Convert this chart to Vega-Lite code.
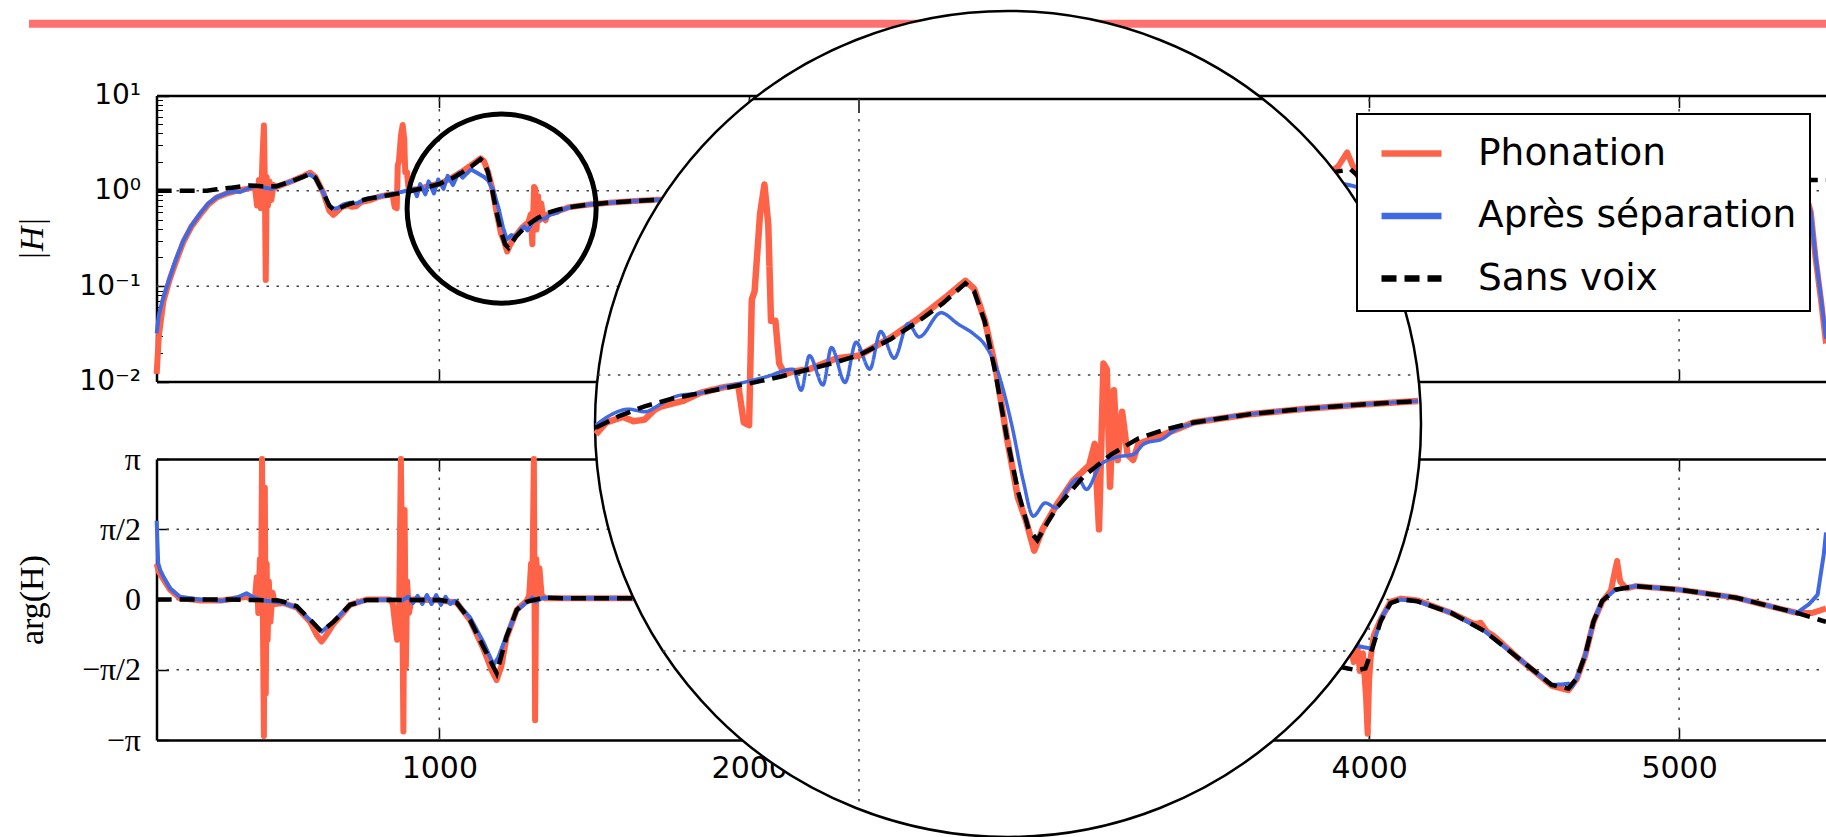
{
  "$schema": "https://vega.github.io/schema/vega-lite/v6.json",
  "width": 1826,
  "height": 837,
  "autosize": "none",
  "padding": 0,
  "background": "white",
  "config": {
    "view": {"stroke": null},
    "axis": {"domainColor": "black", "tickColor": "black", "labelColor": "black", "grid": false, "labelFlush": false, "labelOverlap": false, "labelBound": false}
  },
  "datasets": {
    "topP": [
      {"s":"Phonation","f":88,"v":0.012},{"s":"Phonation","f":95,"v":0.03},{"s":"Phonation","f":110,"v":0.07},{"s":"Phonation","f":131,"v":0.12},{"s":"Phonation","f":150,"v":0.18},{"s":"Phonation","f":174,"v":0.29},{"s":"Phonation","f":200,"v":0.42},{"s":"Phonation","f":228,"v":0.56},{"s":"Phonation","f":255,"v":0.72},{"s":"Phonation","f":282,"v":0.85},{"s":"Phonation","f":315,"v":0.94},{"s":"Phonation","f":346,"v":1.0},{"s":"Phonation","f":380,"v":1.05},{"s":"Phonation","f":405,"v":1.1},{"s":"Phonation","f":412,"v":0.7},{"s":"Phonation","f":418,"v":1.3},{"s":"Phonation","f":424,"v":0.66},{"s":"Phonation","f":430,"v":2.5},{"s":"Phonation","f":434,"v":4.85},{"s":"Phonation","f":437,"v":1.2},{"s":"Phonation","f":440,"v":0.116},{"s":"Phonation","f":443,"v":1.4},{"s":"Phonation","f":447,"v":0.7},{"s":"Phonation","f":452,"v":1.25},{"s":"Phonation","f":458,"v":0.8},{"s":"Phonation","f":465,"v":1.15},{"s":"Phonation","f":475,"v":1.1},{"s":"Phonation","f":520,"v":1.25},{"s":"Phonation","f":560,"v":1.42},{"s":"Phonation","f":583,"v":1.55},{"s":"Phonation","f":600,"v":1.4},{"s":"Phonation","f":626,"v":0.95},{"s":"Phonation","f":645,"v":0.62},{"s":"Phonation","f":658,"v":0.56},{"s":"Phonation","f":671,"v":0.61},{"s":"Phonation","f":684,"v":0.673},{"s":"Phonation","f":705,"v":0.705},{"s":"Phonation","f":718,"v":0.68},{"s":"Phonation","f":732,"v":0.689},{"s":"Phonation","f":745,"v":0.75},{"s":"Phonation","f":753,"v":0.77},{"s":"Phonation","f":780,"v":0.805},{"s":"Phonation","f":801,"v":0.86},{"s":"Phonation","f":828,"v":0.9},{"s":"Phonation","f":849,"v":0.92},{"s":"Phonation","f":856,"v":0.673},{"s":"Phonation","f":862.6,"v":0.658},{"s":"Phonation","f":866,"v":1.878},{"s":"Phonation","f":869.5,"v":2.01},{"s":"Phonation","f":876.3,"v":3.835},{"s":"Phonation","f":881.8,"v":4.9},{"s":"Phonation","f":886.6,"v":3.51},{"s":"Phonation","f":890,"v":1.571},{"s":"Phonation","f":895.5,"v":1.571},{"s":"Phonation","f":900.3,"v":1.1},{"s":"Phonation","f":907.2,"v":1.006},{"s":"Phonation","f":917.5,"v":1.03},{"s":"Phonation","f":938,"v":1.05},{"s":"Phonation","f":972,"v":1.15},{"s":"Phonation","f":1000,"v":1.175},{"s":"Phonation","f":1041,"v":1.374},{"s":"Phonation","f":1075,"v":1.607},{"s":"Phonation","f":1109,"v":1.92},{"s":"Phonation","f":1133,"v":2.195},{"s":"Phonation","f":1144,"v":2.053},{"s":"Phonation","f":1157.5,"v":1.571},{"s":"Phonation","f":1171,"v":1.05},{"s":"Phonation","f":1185,"v":0.589},{"s":"Phonation","f":1198.6,"v":0.36},{"s":"Phonation","f":1209,"v":0.295},{"s":"Phonation","f":1219,"v":0.231},{"s":"Phonation","f":1229.4,"v":0.276},{"s":"Phonation","f":1246.6,"v":0.337},{"s":"Phonation","f":1267,"v":0.412},{"s":"Phonation","f":1287.7,"v":0.471},{"s":"Phonation","f":1294.6,"v":0.563},{"s":"Phonation","f":1300,"v":0.276},{"s":"Phonation","f":1305.6,"v":1.1},{"s":"Phonation","f":1309.7,"v":1.05},{"s":"Phonation","f":1313.8,"v":0.394},{"s":"Phonation","f":1318.6,"v":0.88},{"s":"Phonation","f":1323.4,"v":0.492},{"s":"Phonation","f":1328.9,"v":0.736},{"s":"Phonation","f":1335.7,"v":0.515},{"s":"Phonation","f":1342.6,"v":0.492},{"s":"Phonation","f":1349.4,"v":0.563},{"s":"Phonation","f":1377,"v":0.602},{"s":"Phonation","f":1418,"v":0.673},{"s":"Phonation","f":1487,"v":0.72},{"s":"Phonation","f":1555,"v":0.753},{"s":"Phonation","f":1624,"v":0.78},{"s":"Phonation","f":1699,"v":0.805},{"s":"Phonation","f":1800,"v":0.82},{"s":"Phonation","f":2000,"v":0.85},{"s":"Phonation","f":2500,"v":0.9},{"s":"Phonation","f":3000,"v":0.97},{"s":"Phonation","f":3500,"v":1.1},{"s":"Phonation","f":3850,"v":1.4},{"s":"Phonation","f":3900,"v":1.8},{"s":"Phonation","f":3929,"v":2.53},{"s":"Phonation","f":3945,"v":1.9},{"s":"Phonation","f":3970,"v":1.3},{"s":"Phonation","f":4100,"v":0.9},{"s":"Phonation","f":4500,"v":0.9},{"s":"Phonation","f":5000,"v":1.1},{"s":"Phonation","f":5400,"v":1.15},{"s":"Phonation","f":5425,"v":0.6},{"s":"Phonation","f":5440,"v":0.2},{"s":"Phonation","f":5457,"v":0.075},{"s":"Phonation","f":5474,"v":0.025}
    ],
    "topB": [
      {"s":"Après séparation","f":88,"v":0.032},{"s":"Après séparation","f":95,"v":0.05},{"s":"Après séparation","f":110,"v":0.077},{"s":"Après séparation","f":131,"v":0.125},{"s":"Après séparation","f":150,"v":0.19},{"s":"Après séparation","f":174,"v":0.3},{"s":"Après séparation","f":200,"v":0.43},{"s":"Après séparation","f":228,"v":0.577},{"s":"Après séparation","f":255,"v":0.74},{"s":"Après séparation","f":282,"v":0.86},{"s":"Après séparation","f":315,"v":0.95},{"s":"Après séparation","f":340,"v":0.99},{"s":"Après séparation","f":357,"v":0.97},{"s":"Après séparation","f":380,"v":1.05},{"s":"Après séparation","f":411,"v":1.13},{"s":"Après séparation","f":435,"v":1.08},{"s":"Après séparation","f":459,"v":1.05},{"s":"Après séparation","f":480,"v":1.12},{"s":"Après séparation","f":520,"v":1.25},{"s":"Après séparation","f":560,"v":1.4},{"s":"Après séparation","f":583,"v":1.48},{"s":"Après séparation","f":600,"v":1.35},{"s":"Après séparation","f":626,"v":0.95},{"s":"Après séparation","f":645,"v":0.7},{"s":"Après séparation","f":658,"v":0.65},{"s":"Après séparation","f":671,"v":0.658},{"s":"Après séparation","f":691,"v":0.72},{"s":"Après séparation","f":712,"v":0.752},{"s":"Après séparation","f":732,"v":0.736},{"s":"Après séparation","f":753,"v":0.787},{"s":"Après séparation","f":773.5,"v":0.841},{"s":"Après séparation","f":801,"v":0.86},{"s":"Après séparation","f":828,"v":0.9},{"s":"Après séparation","f":856,"v":0.94},{"s":"Après séparation","f":883,"v":0.983},{"s":"Après séparation","f":917.5,"v":1.05},{"s":"Après séparation","f":927.7,"v":0.88},{"s":"Après séparation","f":938,"v":1.175},{"s":"Après séparation","f":955,"v":0.92},{"s":"Après séparation","f":965.5,"v":1.257},{"s":"Après séparation","f":982.6,"v":0.94},{"s":"Après séparation","f":996.3,"v":1.314},{"s":"Après séparation","f":1013.5,"v":1.05},{"s":"Après séparation","f":1027,"v":1.437},{"s":"Après séparation","f":1044,"v":1.15},{"s":"Après séparation","f":1061.5,"v":1.536},{"s":"Après séparation","f":1075,"v":1.374},{"s":"Après séparation","f":1102.6,"v":1.68},{"s":"Après séparation","f":1123,"v":1.536},{"s":"Après séparation","f":1143.7,"v":1.405},{"s":"Après séparation","f":1157.5,"v":1.285},{"s":"Après séparation","f":1174.6,"v":1.006},{"s":"Après séparation","f":1191.7,"v":0.644},{"s":"Après séparation","f":1205.4,"v":0.412},{"s":"Après séparation","f":1217.8,"v":0.308},{"s":"Après séparation","f":1232.9,"v":0.344},{"s":"Après séparation","f":1246.6,"v":0.33},{"s":"Après séparation","f":1260.3,"v":0.385},{"s":"Après séparation","f":1274,"v":0.421},{"s":"Après séparation","f":1284.3,"v":0.385},{"s":"Après séparation","f":1301.4,"v":0.471},{"s":"Après séparation","f":1322,"v":0.504},{"s":"Après séparation","f":1342.6,"v":0.515},{"s":"Après séparation","f":1356.3,"v":0.563},{"s":"Après séparation","f":1380.3,"v":0.589},{"s":"Après séparation","f":1394,"v":0.63},{"s":"Après séparation","f":1418,"v":0.667},{"s":"Après séparation","f":1487,"v":0.72},{"s":"Après séparation","f":1555,"v":0.753},{"s":"Après séparation","f":1624,"v":0.78},{"s":"Après séparation","f":1699,"v":0.805},{"s":"Après séparation","f":1800,"v":0.82},{"s":"Après séparation","f":2000,"v":0.85},{"s":"Après séparation","f":2500,"v":0.9},{"s":"Après séparation","f":3000,"v":0.97},{"s":"Après séparation","f":3500,"v":1.05},{"s":"Après séparation","f":3850,"v":1.2},{"s":"Après séparation","f":3900,"v":1.2},{"s":"Après séparation","f":3930,"v":1.16},{"s":"Après séparation","f":3960,"v":1.1},{"s":"Après séparation","f":4100,"v":0.9},{"s":"Après séparation","f":4500,"v":0.9},{"s":"Après séparation","f":5000,"v":1.1},{"s":"Après séparation","f":5400,"v":1.15},{"s":"Après séparation","f":5425,"v":0.6},{"s":"Après séparation","f":5440,"v":0.21},{"s":"Après séparation","f":5457,"v":0.08},{"s":"Après séparation","f":5474,"v":0.028}
    ],
    "topK": [
      {"s":"Sans voix","f":88,"v":1.0},{"s":"Sans voix","f":150,"v":1.0},{"s":"Sans voix","f":250,"v":1.0},{"s":"Sans voix","f":282,"v":1.04},{"s":"Sans voix","f":330,"v":1.08},{"s":"Sans voix","f":389,"v":1.14},{"s":"Sans voix","f":430,"v":1.12},{"s":"Sans voix","f":475,"v":1.12},{"s":"Sans voix","f":520,"v":1.25},{"s":"Sans voix","f":560,"v":1.4},{"s":"Sans voix","f":583,"v":1.51},{"s":"Sans voix","f":600,"v":1.38},{"s":"Sans voix","f":626,"v":0.95},{"s":"Sans voix","f":645,"v":0.7},{"s":"Sans voix","f":660,"v":0.63},{"s":"Sans voix","f":671,"v":0.644},{"s":"Sans voix","f":700,"v":0.71},{"s":"Sans voix","f":732,"v":0.77},{"s":"Sans voix","f":766,"v":0.82},{"s":"Sans voix","f":801,"v":0.86},{"s":"Sans voix","f":835,"v":0.9},{"s":"Sans voix","f":869.5,"v":0.94},{"s":"Sans voix","f":904,"v":0.99},{"s":"Sans voix","f":938,"v":1.05},{"s":"Sans voix","f":970,"v":1.11},{"s":"Sans voix","f":1000,"v":1.18},{"s":"Sans voix","f":1040,"v":1.35},{"s":"Sans voix","f":1075,"v":1.57},{"s":"Sans voix","f":1105,"v":1.82},{"s":"Sans voix","f":1133,"v":2.15},{"s":"Sans voix","f":1144,"v":2.01},{"s":"Sans voix","f":1157,"v":1.57},{"s":"Sans voix","f":1171,"v":1.0},{"s":"Sans voix","f":1185,"v":0.589},{"s":"Sans voix","f":1199,"v":0.377},{"s":"Sans voix","f":1212,"v":0.276},{"s":"Sans voix","f":1223,"v":0.252},{"s":"Sans voix","f":1235,"v":0.29},{"s":"Sans voix","f":1247,"v":0.33},{"s":"Sans voix","f":1281,"v":0.43},{"s":"Sans voix","f":1315,"v":0.515},{"s":"Sans voix","f":1349,"v":0.589},{"s":"Sans voix","f":1383,"v":0.635},{"s":"Sans voix","f":1418,"v":0.673},{"s":"Sans voix","f":1487,"v":0.72},{"s":"Sans voix","f":1555,"v":0.753},{"s":"Sans voix","f":1624,"v":0.78},{"s":"Sans voix","f":1699,"v":0.805},{"s":"Sans voix","f":1800,"v":0.82},{"s":"Sans voix","f":2000,"v":0.85},{"s":"Sans voix","f":2500,"v":0.9},{"s":"Sans voix","f":3000,"v":0.97},{"s":"Sans voix","f":3500,"v":1.1},{"s":"Sans voix","f":3800,"v":1.35},{"s":"Sans voix","f":3900,"v":1.6},{"s":"Sans voix","f":3940,"v":1.68},{"s":"Sans voix","f":3990,"v":1.2},{"s":"Sans voix","f":4100,"v":0.9},{"s":"Sans voix","f":4500,"v":0.9},{"s":"Sans voix","f":5000,"v":1.1},{"s":"Sans voix","f":5400,"v":1.3},{"s":"Sans voix","f":5474,"v":1.3}
    ],
    "botP": [
      {"s":"Phonation","f":88,"p":0.8},{"s":"Phonation","f":95,"p":0.62},{"s":"Phonation","f":110,"p":0.45},{"s":"Phonation","f":131,"p":0.22},{"s":"Phonation","f":163,"p":0.03},{"s":"Phonation","f":228,"p":-0.02},{"s":"Phonation","f":300,"p":-0.02},{"s":"Phonation","f":350,"p":0.03},{"s":"Phonation","f":378,"p":0.06},{"s":"Phonation","f":405,"p":0.0},{"s":"Phonation","f":411,"p":0.5},{"s":"Phonation","f":416,"p":-0.3},{"s":"Phonation","f":421,"p":0.9},{"s":"Phonation","f":425,"p":0.2},{"s":"Phonation","f":428,"p":3.14},{"s":"Phonation","f":431,"p":-0.6},{"s":"Phonation","f":434,"p":-3.05},{"s":"Phonation","f":437,"p":2.5},{"s":"Phonation","f":440,"p":-2.1},{"s":"Phonation","f":443,"p":0.8},{"s":"Phonation","f":446,"p":-0.9},{"s":"Phonation","f":450,"p":0.4},{"s":"Phonation","f":455,"p":-0.5},{"s":"Phonation","f":462,"p":0.15},{"s":"Phonation","f":470,"p":-0.1},{"s":"Phonation","f":497,"p":-0.08},{"s":"Phonation","f":540,"p":-0.18},{"s":"Phonation","f":583,"p":-0.5},{"s":"Phonation","f":605,"p":-0.8},{"s":"Phonation","f":620,"p":-0.94},{"s":"Phonation","f":635,"p":-0.8},{"s":"Phonation","f":658,"p":-0.55},{"s":"Phonation","f":712,"p":-0.12},{"s":"Phonation","f":766,"p":0.0},{"s":"Phonation","f":840,"p":0.0},{"s":"Phonation","f":850,"p":-0.1},{"s":"Phonation","f":858,"p":-0.6},{"s":"Phonation","f":864,"p":-0.9},{"s":"Phonation","f":870,"p":-0.4},{"s":"Phonation","f":876,"p":3.14},{"s":"Phonation","f":880,"p":0.5},{"s":"Phonation","f":884,"p":-2.95},{"s":"Phonation","f":888,"p":2.0},{"s":"Phonation","f":892,"p":-1.5},{"s":"Phonation","f":896,"p":0.4},{"s":"Phonation","f":902,"p":-0.3},{"s":"Phonation","f":910,"p":0.0},{"s":"Phonation","f":1000,"p":-0.02},{"s":"Phonation","f":1056,"p":-0.07},{"s":"Phonation","f":1099,"p":-0.46},{"s":"Phonation","f":1142,"p":-1.1},{"s":"Phonation","f":1170,"p":-1.6},{"s":"Phonation","f":1185,"p":-1.8},{"s":"Phonation","f":1200,"p":-1.5},{"s":"Phonation","f":1217,"p":-0.85},{"s":"Phonation","f":1250,"p":-0.23},{"s":"Phonation","f":1282,"p":-0.03},{"s":"Phonation","f":1290,"p":0.1},{"s":"Phonation","f":1296,"p":0.8},{"s":"Phonation","f":1300,"p":0.2},{"s":"Phonation","f":1305,"p":3.14},{"s":"Phonation","f":1309,"p":-2.7},{"s":"Phonation","f":1313,"p":0.9},{"s":"Phonation","f":1318,"p":0.3},{"s":"Phonation","f":1323,"p":0.7},{"s":"Phonation","f":1330,"p":0.1},{"s":"Phonation","f":1340,"p":0.03},{"s":"Phonation","f":1400,"p":0.03},{"s":"Phonation","f":1630,"p":0.03},{"s":"Phonation","f":2000,"p":0.03},{"s":"Phonation","f":3000,"p":-0.1},{"s":"Phonation","f":3700,"p":-0.5},{"s":"Phonation","f":3900,"p":-1.2},{"s":"Phonation","f":3940,"p":-1.0},{"s":"Phonation","f":3950,"p":-1.4},{"s":"Phonation","f":3960,"p":-0.9},{"s":"Phonation","f":3970,"p":-1.6},{"s":"Phonation","f":3980,"p":-1.2},{"s":"Phonation","f":3990,"p":-2.2},{"s":"Phonation","f":3995,"p":-3.0},{"s":"Phonation","f":4000,"p":-1.8},{"s":"Phonation","f":4005,"p":-1.3},{"s":"Phonation","f":4015,"p":-0.8},{"s":"Phonation","f":4037,"p":-0.45},{"s":"Phonation","f":4069,"p":-0.05},{"s":"Phonation","f":4102,"p":0.02},{"s":"Phonation","f":4156,"p":-0.02},{"s":"Phonation","f":4265,"p":-0.3},{"s":"Phonation","f":4340,"p":-0.55},{"s":"Phonation","f":4360,"p":-0.52},{"s":"Phonation","f":4380,"p":-0.72},{"s":"Phonation","f":4400,"p":-0.8},{"s":"Phonation","f":4481,"p":-1.31},{"s":"Phonation","f":4589,"p":-1.93},{"s":"Phonation","f":4643,"p":-2.03},{"s":"Phonation","f":4670,"p":-1.78},{"s":"Phonation","f":4697,"p":-1.26},{"s":"Phonation","f":4724,"p":-0.5},{"s":"Phonation","f":4752,"p":-0.05},{"s":"Phonation","f":4780,"p":0.2},{"s":"Phonation","f":4795,"p":0.7},{"s":"Phonation","f":4800,"p":0.86},{"s":"Phonation","f":4810,"p":0.4},{"s":"Phonation","f":4830,"p":0.25},{"s":"Phonation","f":4860,"p":0.3},{"s":"Phonation","f":5000,"p":0.22},{"s":"Phonation","f":5184,"p":0.04},{"s":"Phonation","f":5293,"p":-0.15},{"s":"Phonation","f":5380,"p":-0.3},{"s":"Phonation","f":5430,"p":-0.3},{"s":"Phonation","f":5474,"p":-0.2}
    ],
    "botB": [
      {"s":"Après séparation","f":88,"p":1.76},{"s":"Après séparation","f":93,"p":0.81},{"s":"Après séparation","f":100,"p":0.65},{"s":"Après séparation","f":110,"p":0.51},{"s":"Après séparation","f":131,"p":0.25},{"s":"Après séparation","f":163,"p":0.06},{"s":"Après séparation","f":228,"p":0.0},{"s":"Après séparation","f":300,"p":-0.03},{"s":"Après séparation","f":350,"p":0.05},{"s":"Après séparation","f":378,"p":0.14},{"s":"Après séparation","f":400,"p":0.05},{"s":"Après séparation","f":430,"p":-0.02},{"s":"Après séparation","f":470,"p":-0.05},{"s":"Après séparation","f":497,"p":-0.08},{"s":"Après séparation","f":540,"p":-0.18},{"s":"Après séparation","f":583,"p":-0.46},{"s":"Après séparation","f":620,"p":-0.72},{"s":"Après séparation","f":658,"p":-0.5},{"s":"Après séparation","f":712,"p":-0.12},{"s":"Après séparation","f":766,"p":-0.01},{"s":"Après séparation","f":860,"p":0.0},{"s":"Après séparation","f":880,"p":-0.02},{"s":"Après séparation","f":900,"p":0.06},{"s":"Après séparation","f":915,"p":-0.08},{"s":"Après séparation","f":930,"p":0.08},{"s":"Après séparation","f":945,"p":-0.1},{"s":"Après séparation","f":960,"p":0.1},{"s":"Après séparation","f":975,"p":-0.1},{"s":"Après séparation","f":990,"p":0.1},{"s":"Après séparation","f":1005,"p":-0.12},{"s":"Après séparation","f":1020,"p":0.06},{"s":"Après séparation","f":1035,"p":-0.1},{"s":"Après séparation","f":1050,"p":-0.03},{"s":"Après séparation","f":1099,"p":-0.4},{"s":"Après séparation","f":1142,"p":-0.95},{"s":"Après séparation","f":1175,"p":-1.46},{"s":"Après séparation","f":1190,"p":-1.3},{"s":"Après séparation","f":1217,"p":-0.8},{"s":"Après séparation","f":1250,"p":-0.25},{"s":"Après séparation","f":1282,"p":-0.06},{"s":"Après séparation","f":1300,"p":0.04},{"s":"Après séparation","f":1310,"p":-0.05},{"s":"Après séparation","f":1336,"p":0.04},{"s":"Après séparation","f":1400,"p":0.03},{"s":"Après séparation","f":1630,"p":0.03},{"s":"Après séparation","f":2000,"p":0.03},{"s":"Après séparation","f":3000,"p":-0.1},{"s":"Après séparation","f":3700,"p":-0.5},{"s":"Après séparation","f":3900,"p":-1.0},{"s":"Après séparation","f":3961,"p":-1.04},{"s":"Après séparation","f":4009,"p":-1.1},{"s":"Après séparation","f":4040,"p":-0.4},{"s":"Après séparation","f":4069,"p":-0.08},{"s":"Après séparation","f":4102,"p":0.0},{"s":"Après séparation","f":4156,"p":-0.04},{"s":"Après séparation","f":4265,"p":-0.3},{"s":"Après séparation","f":4373,"p":-0.71},{"s":"Après séparation","f":4481,"p":-1.31},{"s":"Après séparation","f":4589,"p":-1.91},{"s":"Après séparation","f":4620,"p":-1.9},{"s":"Après séparation","f":4643,"p":-1.88},{"s":"Après séparation","f":4655,"p":-1.95},{"s":"Après séparation","f":4670,"p":-1.76},{"s":"Après séparation","f":4697,"p":-1.24},{"s":"Après séparation","f":4724,"p":-0.49},{"s":"Après séparation","f":4752,"p":-0.03},{"s":"Après séparation","f":4795,"p":0.22},{"s":"Après séparation","f":4860,"p":0.3},{"s":"Après séparation","f":5000,"p":0.22},{"s":"Après séparation","f":5184,"p":0.04},{"s":"Après séparation","f":5293,"p":-0.15},{"s":"Après séparation","f":5380,"p":-0.3},{"s":"Après séparation","f":5420,"p":-0.1},{"s":"Après séparation","f":5447,"p":0.11},{"s":"Après séparation","f":5467,"p":1.02},{"s":"Après séparation","f":5474,"p":1.5}
    ],
    "botK": [
      {"s":"Sans voix","f":88,"p":0.0},{"s":"Sans voix","f":300,"p":0.0},{"s":"Sans voix","f":480,"p":-0.02},{"s":"Sans voix","f":497,"p":-0.05},{"s":"Sans voix","f":540,"p":-0.15},{"s":"Sans voix","f":583,"p":-0.45},{"s":"Sans voix","f":620,"p":-0.72},{"s":"Sans voix","f":658,"p":-0.5},{"s":"Sans voix","f":712,"p":-0.12},{"s":"Sans voix","f":766,"p":-0.01},{"s":"Sans voix","f":1000,"p":-0.01},{"s":"Sans voix","f":1056,"p":-0.07},{"s":"Sans voix","f":1099,"p":-0.46},{"s":"Sans voix","f":1142,"p":-1.055},{"s":"Sans voix","f":1185,"p":-1.65},{"s":"Sans voix","f":1217,"p":-0.83},{"s":"Sans voix","f":1250,"p":-0.23},{"s":"Sans voix","f":1282,"p":-0.05},{"s":"Sans voix","f":1336,"p":0.04},{"s":"Sans voix","f":1400,"p":0.03},{"s":"Sans voix","f":1630,"p":0.03},{"s":"Sans voix","f":2000,"p":0.03},{"s":"Sans voix","f":3000,"p":-0.1},{"s":"Sans voix","f":3700,"p":-0.5},{"s":"Sans voix","f":3900,"p":-1.5},{"s":"Sans voix","f":3960,"p":-1.58},{"s":"Sans voix","f":3988,"p":-1.54},{"s":"Sans voix","f":4010,"p":-1.1},{"s":"Sans voix","f":4037,"p":-0.49},{"s":"Sans voix","f":4069,"p":-0.08},{"s":"Sans voix","f":4102,"p":0.0},{"s":"Sans voix","f":4156,"p":-0.04},{"s":"Sans voix","f":4265,"p":-0.3},{"s":"Sans voix","f":4373,"p":-0.71},{"s":"Sans voix","f":4481,"p":-1.31},{"s":"Sans voix","f":4589,"p":-1.91},{"s":"Sans voix","f":4643,"p":-1.99},{"s":"Sans voix","f":4670,"p":-1.76},{"s":"Sans voix","f":4697,"p":-1.24},{"s":"Sans voix","f":4724,"p":-0.49},{"s":"Sans voix","f":4752,"p":-0.03},{"s":"Sans voix","f":4795,"p":0.22},{"s":"Sans voix","f":4860,"p":0.3},{"s":"Sans voix","f":5000,"p":0.22},{"s":"Sans voix","f":5184,"p":0.04},{"s":"Sans voix","f":5293,"p":-0.15},{"s":"Sans voix","f":5380,"p":-0.3},{"s":"Sans voix","f":5474,"p":-0.5}
    ]
  },
  "resolve": {"scale": {"x": "independent", "y": "independent"}},
  "layer": [
    {
      "resolve": {"axis": {"x": "independent", "y": "independent"}},
      "layer": [
        {
          "data": {"values": [{"band": 56.7, "from": -324, "to": 6000}]},
          "mark": {"type": "rule", "color": "#ff7070", "strokeWidth": 8},
          "encoding": {
            "x": {"field": "from", "type": "quantitative", "axis": null, "scale": {"domain": [87.5, 5474], "range": [156.5, 1826], "nice": false, "zero": false}},
            "x2": {"field": "to"},
            "y": {"field": "band", "type": "quantitative", "axis": null, "scale": {"type": "log", "domain": [0.01, 10], "range": [381.5, 95.5], "nice": false}}
          }
        },
        {
          "data": {"values": [{"v": 1, "f0": 87.5, "f1": 5474}, {"v": 0.1, "f0": 87.5, "f1": 5474}]},
          "mark": {"type": "rule", "color": "#444", "strokeWidth": 1.5, "strokeDash": [2.5, 7.5]},
          "encoding": {
            "y": {"field": "v", "type": "quantitative", "axis": null, "scale": {"type": "log", "domain": [0.01, 10], "range": [381.5, 95.5], "nice": false}},
            "x": {"field": "f0", "type": "quantitative", "axis": null, "scale": {"domain": [87.5, 5474], "range": [156.5, 1826], "nice": false, "zero": false}},
            "x2": {"field": "f1"}
          }
        },
        {
          "data": {"values": [{"f": 1000, "v0": 0.01, "v1": 10}, {"f": 2000, "v0": 0.01, "v1": 10}, {"f": 3000, "v0": 0.01, "v1": 10}, {"f": 4000, "v0": 0.01, "v1": 10}, {"f": 5000, "v0": 0.01, "v1": 10}]},
          "mark": {"type": "rule", "color": "#444", "strokeWidth": 1.5, "strokeDash": [2.5, 7.5]},
          "encoding": {
            "x": {"field": "f", "type": "quantitative", "axis": null, "scale": {"domain": [87.5, 5474], "range": [156.5, 1826], "nice": false, "zero": false}},
            "y": {"field": "v0", "type": "quantitative", "axis": null, "scale": {"type": "log", "domain": [0.01, 10], "range": [381.5, 95.5], "nice": false}},
            "y2": {"field": "v1"}
          }
        },
        {
          "data": {"name": "topP"},
          "mark": {"type": "line", "strokeWidth": 6, "strokeJoin": "round"},
          "encoding": {
            "x": {"field": "f", "type": "quantitative", "scale": {"domain": [87.5, 5474], "range": [156.5, 1826], "nice": false, "zero": false},
              "axis": {"orient": "bottom", "offset": -455.5, "values": [1000, 2000, 3000, 4000, 5000], "labels": false, "tickSize": -12, "tickWidth": 1.5, "domainWidth": 2.5, "title": null}},
            "y": {"field": "v", "type": "quantitative", "scale": {"type": "log", "domain": [0.01, 10], "range": [381.5, 95.5], "nice": false},
              "axis": {"orient": "left", "offset": -156.5, "values": [0.01, 0.1, 1, 10], "tickSize": -12, "tickWidth": 1.5, "domainWidth": 2.5,
                "labelExpr": "datum.value >= 5 ? '10¹' : datum.value >= 0.5 ? '10⁰' : datum.value >= 0.05 ? '10⁻¹' : '10⁻²'",
                "labelFont": "DejaVu Sans", "labelFontSize": 28, "labelPadding": 28, "labelBaseline": "middle",
                "title": "|H|", "titleX": -114.5, "titleY": 238.5, "titleAngle": 270, "titleFont": "Liberation Serif", "titleFontStyle": "italic", "titleFontSize": 34, "titleFontWeight": "normal", "titleAlign": "center", "titleBaseline": "alphabetic", "titleColor": "black"}},
            "color": {"field": "s", "type": "nominal", "scale": {"domain": ["Phonation", "Après séparation", "Sans voix"], "range": ["#ff6347", "#4169e1", "#000000"]},
              "legend": {"orient": "none", "legendX": 1357, "legendY": 114, "title": null, "direction": "vertical", "fillColor": "white", "strokeColor": "black", "padding": 13.5, "cornerRadius": 0, "labelFont": "DejaVu Sans", "labelFontSize": 37.5, "labelColor": "black", "labelLimit": 1000, "labelOffset": 40.5, "symbolType": "M-1.333,0H1.333", "symbolSize": 2025, "symbolStrokeWidth": 6.5, "symbolOffset": 15, "rowPadding": 17.5, "encode": {"legend": {"update": {"strokeWidth": {"value": 2}}}}}},
            "strokeDash": {"field": "s", "type": "nominal", "scale": {"domain": ["Phonation", "Après séparation", "Sans voix"], "range": [[1, 0], [1, 0], [15, 8]]},
              "legend": {"orient": "none", "legendX": 1357, "legendY": 114, "title": null, "direction": "vertical", "fillColor": "white", "strokeColor": "black", "padding": 13.5, "cornerRadius": 0, "labelFont": "DejaVu Sans", "labelFontSize": 37.5, "labelColor": "black", "labelLimit": 1000, "labelOffset": 40.5, "symbolType": "M-1.333,0H1.333", "symbolSize": 2025, "symbolStrokeWidth": 6.5, "symbolOffset": 15, "rowPadding": 17.5, "encode": {"legend": {"update": {"strokeWidth": {"value": 2}}}}}}
          }
        },
        {
          "data": {"name": "topB"},
          "mark": {"type": "line", "strokeWidth": 4, "strokeJoin": "round"},
          "encoding": {
            "x": {"field": "f", "type": "quantitative", "scale": {"domain": [87.5, 5474], "range": [156.5, 1826], "nice": false, "zero": false},
              "axis": {"orient": "top", "offset": -95.5, "values": [1000, 2000, 3000, 4000, 5000], "labels": false, "tickSize": -12, "tickWidth": 1.5, "domainWidth": 2.5, "title": null}},
            "y": {"field": "v", "type": "quantitative", "scale": {"type": "log", "domain": [0.01, 10], "range": [381.5, 95.5], "nice": false},
              "axis": {"orient": "left", "offset": -156.5, "values": [0.02, 0.03, 0.04, 0.05, 0.06, 0.07, 0.08, 0.09, 0.2, 0.3, 0.4, 0.5, 0.6, 0.7, 0.8, 0.9, 2, 3, 4, 5, 6, 7, 8, 9], "labels": false, "domain": false, "tickSize": -6, "tickWidth": 1, "title": null}},
            "color": {"field": "s", "type": "nominal"},
            "strokeDash": {"field": "s", "type": "nominal"}
          }
        },
        {
          "data": {"name": "topK"},
          "mark": {"type": "line", "strokeWidth": 4.5, "strokeCap": "butt"},
          "encoding": {
            "x": {"field": "f", "type": "quantitative", "axis": null, "scale": {"domain": [87.5, 5474], "range": [156.5, 1826], "nice": false, "zero": false}},
            "y": {"field": "v", "type": "quantitative", "axis": null, "scale": {"type": "log", "domain": [0.01, 10], "range": [381.5, 95.5], "nice": false}},
            "color": {"field": "s", "type": "nominal"},
            "strokeDash": {"field": "s", "type": "nominal"}
          }
        },
        {
          "data": {"values": [{"f": 1201, "v": 0.651}]},
          "mark": {"type": "point", "shape": "circle", "filled": false, "stroke": "black", "strokeWidth": 5, "size": 35721, "opacity": 1},
          "encoding": {
            "x": {"field": "f", "type": "quantitative", "axis": null, "scale": {"domain": [87.5, 5474], "range": [156.5, 1826], "nice": false, "zero": false}},
            "y": {"field": "v", "type": "quantitative", "axis": null, "scale": {"type": "log", "domain": [0.01, 10], "range": [381.5, 95.5], "nice": false}}
          }
        }
      ]
    },
    {
      "resolve": {"axis": {"x": "independent", "y": "independent"}},
      "layer": [
        {
          "data": {"values": [{"p": 1.5708, "f0": 87.5, "f1": 5474}, {"p": 0, "f0": 87.5, "f1": 5474}, {"p": -1.5708, "f0": 87.5, "f1": 5474}]},
          "mark": {"type": "rule", "color": "#444", "strokeWidth": 1.5, "strokeDash": [2.5, 7.5]},
          "encoding": {
            "y": {"field": "p", "type": "quantitative", "axis": null, "scale": {"domain": [-3.14159265, 3.14159265], "range": [740, 459], "nice": false, "zero": false}},
            "x": {"field": "f0", "type": "quantitative", "axis": null, "scale": {"domain": [87.5, 5474], "range": [156.5, 1826], "nice": false, "zero": false}},
            "x2": {"field": "f1"}
          }
        },
        {
          "data": {"values": [{"f": 1000, "p0": -3.14159265, "p1": 3.14159265}, {"f": 2000, "p0": -3.14159265, "p1": 3.14159265}, {"f": 3000, "p0": -3.14159265, "p1": 3.14159265}, {"f": 4000, "p0": -3.14159265, "p1": 3.14159265}, {"f": 5000, "p0": -3.14159265, "p1": 3.14159265}]},
          "mark": {"type": "rule", "color": "#444", "strokeWidth": 1.5, "strokeDash": [2.5, 7.5]},
          "encoding": {
            "x": {"field": "f", "type": "quantitative", "axis": null, "scale": {"domain": [87.5, 5474], "range": [156.5, 1826], "nice": false, "zero": false}},
            "y": {"field": "p0", "type": "quantitative", "axis": null, "scale": {"domain": [-3.14159265, 3.14159265], "range": [740, 459], "nice": false, "zero": false}},
            "y2": {"field": "p1"}
          }
        },
        {
          "data": {"name": "botP"},
          "mark": {"type": "line", "strokeWidth": 6, "strokeJoin": "round"},
          "encoding": {
            "x": {"field": "f", "type": "quantitative", "scale": {"domain": [87.5, 5474], "range": [156.5, 1826], "nice": false, "zero": false},
              "axis": {"orient": "bottom", "offset": -97, "values": [1000, 2000, 3000, 4000, 5000], "format": "d", "tickSize": -12, "tickWidth": 1.5, "domainWidth": 2.5, "labelPadding": 25, "labelFont": "DejaVu Sans", "labelFontSize": 30, "labelBaseline": "top", "title": null}},
            "y": {"field": "p", "type": "quantitative", "scale": {"domain": [-3.14159265, 3.14159265], "range": [740, 459], "nice": false, "zero": false},
              "axis": {"orient": "left", "offset": -156.5, "values": [-3.14159265, -1.5707963, 0, 1.5707963, 3.14159265], "tickSize": -12, "tickWidth": 1.5, "domainWidth": 2.5,
                "labelExpr": "datum.value > 3 ? 'π' : datum.value > 1 ? 'π/2' : datum.value > -1 ? '0' : datum.value > -3 ? '−π/2' : '−π'",
                "labelFont": "Liberation Serif", "labelFontSize": 32, "labelPadding": 28, "labelBaseline": "middle",
                "title": "arg(H)", "titleX": -114.5, "titleY": 599.5, "titleAngle": 270, "titleFont": "Liberation Serif", "titleFontSize": 34, "titleFontWeight": "normal", "titleAlign": "center", "titleBaseline": "alphabetic", "titleColor": "black"}},
            "color": {"field": "s", "type": "nominal"},
            "strokeDash": {"field": "s", "type": "nominal"}
          }
        },
        {
          "data": {"name": "botB"},
          "mark": {"type": "line", "strokeWidth": 4, "strokeJoin": "round"},
          "encoding": {
            "x": {"field": "f", "type": "quantitative", "scale": {"domain": [87.5, 5474], "range": [156.5, 1826], "nice": false, "zero": false},
              "axis": {"orient": "top", "offset": -459, "values": [1000, 2000, 3000, 4000, 5000], "labels": false, "tickSize": -12, "tickWidth": 1.5, "domainWidth": 2.5, "title": null}},
            "y": {"field": "p", "type": "quantitative", "axis": null, "scale": {"domain": [-3.14159265, 3.14159265], "range": [740, 459], "nice": false, "zero": false}},
            "color": {"field": "s", "type": "nominal"},
            "strokeDash": {"field": "s", "type": "nominal"}
          }
        },
        {
          "data": {"name": "botK"},
          "mark": {"type": "line", "strokeWidth": 4.5, "strokeCap": "butt"},
          "encoding": {
            "x": {"field": "f", "type": "quantitative", "axis": null, "scale": {"domain": [87.5, 5474], "range": [156.5, 1826], "nice": false, "zero": false}},
            "y": {"field": "p", "type": "quantitative", "axis": null, "scale": {"domain": [-3.14159265, 3.14159265], "range": [740, 459], "nice": false, "zero": false}},
            "color": {"field": "s", "type": "nominal"},
            "strokeDash": {"field": "s", "type": "nominal"}
          }
        }
      ]
    },
    {
      "layer": [
        {
          "data": {"values": [{"f": 1186.25, "v": 0.6645}]},
          "mark": {"type": "point", "shape": "circle", "filled": true, "fill": "white", "stroke": "black", "strokeWidth": 2.5, "size": 682276, "opacity": 1},
          "encoding": {
            "x": {"field": "f", "type": "quantitative", "axis": null, "scale": {"domain": [670, 1700], "range": [595, 1419], "nice": false, "zero": false}},
            "y": {"field": "v", "type": "quantitative", "axis": null, "scale": {"type": "log", "domain": [0.01, 10], "range": [927, 99], "nice": false}}
          }
        },
        {
          "data": {"values": [{"v": 10, "f0": 867.7, "f1": 1504.8}]},
          "mark": {"type": "rule", "color": "black", "strokeWidth": 2.5},
          "encoding": {
            "x": {"field": "f0", "type": "quantitative", "axis": null, "scale": {"domain": [670, 1700], "range": [595, 1419], "nice": false, "zero": false}},
            "x2": {"field": "f1"},
            "y": {"field": "v", "type": "quantitative", "axis": null, "scale": {"type": "log", "domain": [0.01, 10], "range": [927, 99], "nice": false}}
          }
        },
        {
          "data": {"values": [{"f": 1000, "v0": 10, "v1": 8.9}]},
          "mark": {"type": "rule", "color": "black", "strokeWidth": 1.5},
          "encoding": {
            "x": {"field": "f", "type": "quantitative", "axis": null, "scale": {"domain": [670, 1700], "range": [595, 1419], "nice": false, "zero": false}},
            "y": {"field": "v0", "type": "quantitative", "axis": null, "scale": {"type": "log", "domain": [0.01, 10], "range": [927, 99], "nice": false}},
            "y2": {"field": "v1"}
          }
        },
        {
          "data": {"values": [{"f": 1000, "v0": 10, "v1": 0.0268}]},
          "mark": {"type": "rule", "color": "#444", "strokeWidth": 1.5, "strokeDash": [2.5, 7.5]},
          "encoding": {
            "x": {"field": "f", "type": "quantitative", "axis": null, "scale": {"domain": [670, 1700], "range": [595, 1419], "nice": false, "zero": false}},
            "y": {"field": "v0", "type": "quantitative", "axis": null, "scale": {"type": "log", "domain": [0.01, 10], "range": [927, 99], "nice": false}},
            "y2": {"field": "v1"}
          }
        },
        {
          "data": {"values": [{"v": 1, "f0": 673.6, "f1": 1698.9}, {"v": 0.1, "f0": 755, "f1": 1617.5}]},
          "mark": {"type": "rule", "color": "#444", "strokeWidth": 1.5, "strokeDash": [2.5, 7.5]},
          "encoding": {
            "x": {"field": "f0", "type": "quantitative", "axis": null, "scale": {"domain": [670, 1700], "range": [595, 1419], "nice": false, "zero": false}},
            "x2": {"field": "f1"},
            "y": {"field": "v", "type": "quantitative", "axis": null, "scale": {"type": "log", "domain": [0.01, 10], "range": [927, 99], "nice": false}}
          }
        },
        {
          "data": {"name": "topP"},
          "transform": [{"filter": {"field": "f", "range": [670, 1700]}}],
          "mark": {"type": "line", "strokeWidth": 6.5, "strokeJoin": "round"},
          "encoding": {
            "x": {"field": "f", "type": "quantitative", "axis": null, "scale": {"domain": [670, 1700], "range": [595, 1419], "nice": false, "zero": false}},
            "y": {"field": "v", "type": "quantitative", "axis": null, "scale": {"type": "log", "domain": [0.01, 10], "range": [927, 99], "nice": false}},
            "color": {"field": "s", "type": "nominal"},
            "strokeDash": {"field": "s", "type": "nominal"}
          }
        },
        {
          "data": {"name": "topB"},
          "transform": [{"filter": {"field": "f", "range": [670, 1700]}}],
          "mark": {"type": "line", "strokeWidth": 3.5, "strokeJoin": "round", "interpolate": "monotone"},
          "encoding": {
            "x": {"field": "f", "type": "quantitative", "axis": null, "scale": {"domain": [670, 1700], "range": [595, 1419], "nice": false, "zero": false}},
            "y": {"field": "v", "type": "quantitative", "axis": null, "scale": {"type": "log", "domain": [0.01, 10], "range": [927, 99], "nice": false}},
            "color": {"field": "s", "type": "nominal"},
            "strokeDash": {"field": "s", "type": "nominal"}
          }
        },
        {
          "data": {"name": "topK"},
          "transform": [{"filter": {"field": "f", "range": [670, 1700]}}],
          "mark": {"type": "line", "strokeWidth": 4.5, "strokeCap": "butt"},
          "encoding": {
            "x": {"field": "f", "type": "quantitative", "axis": null, "scale": {"domain": [670, 1700], "range": [595, 1419], "nice": false, "zero": false}},
            "y": {"field": "v", "type": "quantitative", "axis": null, "scale": {"type": "log", "domain": [0.01, 10], "range": [927, 99], "nice": false}},
            "color": {"field": "s", "type": "nominal"},
            "strokeDash": {"field": "s", "type": "nominal"}
          }
        }
      ]
    }
  ]
}
